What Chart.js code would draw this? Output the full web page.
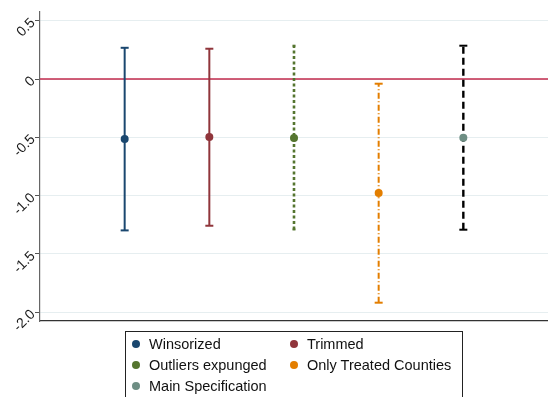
<!DOCTYPE html>
<html>
<head>
<meta charset="utf-8">
<script src="https://cdn.jsdelivr.net/npm/chart.js@4/dist/chart.umd.min.js"></script>
<style>
  html, body { margin: 0; padding: 0; background: #fff; }
  #wrap { position: relative; width: 548px; height: 397px; overflow: hidden; }
  #c { position: absolute; left: 0; top: 0; }
  #legend {
    position: absolute; left: 125px; top: 331px; width: 338px; height: 90px;
    border: 1px solid #222; box-sizing: border-box;
    font-family: "Liberation Sans", Arial, sans-serif; font-size: 14.5px; color: #111;
  }
  .item { position: absolute; height: 16px; line-height: 16px; white-space: nowrap; }
  .dot { position: absolute; width: 8px; height: 8px; border-radius: 50%; top: 4px; }
  .lbl { position: absolute; top: 0; }
</style>
</head>
<body>
<div id="wrap">
  <canvas id="c" width="548" height="397"></canvas>
  <div id="legend"></div>
</div>
<script>
// Specifications compared in the plot
const categories = ['Winsorized', 'Trimmed', 'Outliers expunged', 'Only Treated Counties', 'Main Specification'];
const xPositions = [1, 2, 3, 4, 5];

// Point estimates and 95% confidence bounds
const estimates = [-0.515, -0.497, -0.506, -0.978, -0.503];
const lowerCI   = [-1.298, -1.258, -1.290, -1.918, -1.292];
const upperCI   = [ 0.268,  0.260,  0.286, -0.040,  0.286];

// Y axis ticks
const yTickValues = [-2.0, -1.5, -1.0, -0.5, 0, 0.5];
const yTickLabels = ['-2.0', '-1.5', '-1.0', '-0.5', '0', '0.5'];

// Styling per specification
const markerColors = ['#1a476f', '#90353b', '#55752f', '#e37e00', '#6e8e84'];
const barColors    = ['#1a476f', '#90353b', '#55752f', '#e37e00', '#000000'];
const barDashes    = [[], [], [3, 2.5], [6, 2.5, 1, 2.5], [7, 4]];
const barWidths    = [2, 2, 2.6, 2, 2.4];
const capSizes     = [4, 4, 1.5, 4, 4];

const datasets = [];

// horizontal reference line at zero
datasets.push({
  type: 'line',
  data: [{ x: 0, y: 0 }, { x: 6, y: 0 }],
  borderColor: '#c22a4c',
  borderWidth: 1.6,
  pointRadius: 0,
  order: 100
});

// confidence interval whiskers with caps
categories.forEach((name, i) => {
  datasets.push({
    type: 'line',
    data: [{ x: xPositions[i], y: lowerCI[i] }, { x: xPositions[i], y: upperCI[i] }],
    borderColor: barColors[i],
    borderWidth: barWidths[i],
    borderDash: barDashes[i],
    pointStyle: 'line',
    pointRadius: capSizes[i],
    pointBorderWidth: 2,
    pointBorderColor: barColors[i],
    pointBackgroundColor: barColors[i],
    order: 10
  });
});

// point estimates
categories.forEach((name, i) => {
  datasets.push({
    type: 'scatter',
    label: name,
    data: [{ x: xPositions[i], y: estimates[i] }],
    pointRadius: 4,
    pointBackgroundColor: markerColors[i],
    pointBorderWidth: 0,
    order: 1
  });
});

new Chart(document.getElementById('c'), {
  type: 'scatter',
  data: { datasets },
  options: {
    responsive: false,
    animation: false,
    layout: { autoPadding: false, padding: { top: 12, bottom: 76, left: 0, right: 0 } },
    plugins: { legend: { display: false }, tooltip: { enabled: false } },
    scales: {
      x: {
        type: 'linear', min: 0, max: 6,
        ticks: { display: false },
        grid: { display: false },
        border: { display: true, color: '#333', width: 1.2 },
        afterFit: s => { s.height = 0; s.paddingLeft = 0; s.paddingRight = 0; }
      },
      y: {
        type: 'linear', min: -2.075, max: 0.575,
        afterBuildTicks: s => { s.ticks = yTickValues.map(v => ({ value: v })); },
        afterFit: s => { s.width = 40; },
        ticks: {
          autoSkip: false,
          minRotation: 45, maxRotation: 45,
          padding: 2,
          color: '#1a1a1a',
          font: { family: '"Liberation Sans", Arial, sans-serif', size: 14 },
          callback: v => yTickLabels[yTickValues.indexOf(v)]
        },
        grid: { color: '#e6eef0', lineWidth: 1, tickLength: 5, tickColor: '#555' },
        border: { display: true, color: '#666', width: 1.2 }
      }
    }
  }
});

// legend: two columns, rows filled left to right
const legend = document.getElementById('legend');
const colDot = [10, 168];
const colText = [23, 181];
categories.forEach((name, i) => {
  const col = i % 2, row = Math.floor(i / 2);
  const item = document.createElement('div');
  item.className = 'item';
  item.style.left = '0px';
  item.style.top = (4 + row * 21) + 'px';
  const dot = document.createElement('span');
  dot.className = 'dot';
  dot.style.left = (colDot[col] - 4) + 'px';
  dot.style.background = markerColors[i];
  const lbl = document.createElement('span');
  lbl.className = 'lbl';
  lbl.style.left = colText[col] + 'px';
  lbl.textContent = name;
  item.appendChild(dot);
  item.appendChild(lbl);
  legend.appendChild(item);
});
</script>
</body>
</html>
